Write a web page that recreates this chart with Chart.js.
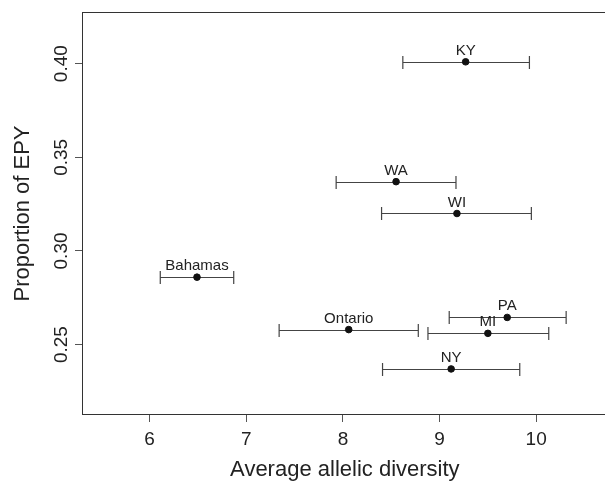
<!DOCTYPE html>
<html>
<head>
<meta charset="utf-8">
<script src="https://cdn.jsdelivr.net/npm/chart.js@4/dist/chart.umd.min.js"></script>
<style>
  html, body { margin: 0; background: #fff; overflow: hidden; width: 605px; height: 481px; }
  #epyCanvas { display: block; }
</style>
</head>
<body>
<!-- a little wider than the window: the right side of the plot box is cut off, as in the picture -->
<canvas id="epyCanvas" width="612" height="481"></canvas>
<script>
const sites = ['KY', 'WA', 'WI', 'Bahamas', 'Ontario', 'PA', 'MI', 'NY'];
const diversity = [9.27, 8.55, 9.18, 6.49, 8.06, 9.70, 9.50, 9.12];
const epy = [0.401, 0.337, 0.320, 0.286, 0.258, 0.2645, 0.256, 0.237];
const lower = [8.62, 7.93, 8.40, 6.11, 7.34, 9.10, 8.88, 8.41];
const upper = [9.93, 9.17, 9.95, 6.87, 8.78, 10.31, 10.13, 9.83];
const xTicks = [6, 7, 8, 9, 10];
const yTicks = [0.25, 0.30, 0.35, 0.40];

const canvas = document.getElementById('epyCanvas');
const fontFamily = "'Liberation Sans', Arial, sans-serif";
const ink = '#222';

const points = diversity.map((d, i) => ({x: d, y: epy[i]}));

// box round the plot, error bars, site names and the rotated y labels
const extras = {
    id: 'extras',
    beforeDatasetsDraw: (chart) => {
        const ctx = chart.ctx;
        const area = chart.chartArea;
        const xs = chart.scales.x;
        const ys = chart.scales.y;
        ctx.save();
        ctx.strokeStyle = '#333';
        ctx.lineWidth = 1;
        ctx.strokeRect(area.left + 0.5, area.top + 0.5, area.right - area.left, area.bottom - area.top - 1);

        ctx.strokeStyle = '#444';
        ctx.lineWidth = 1.2;
        sites.forEach((site, i) => {
            const y = Math.round(ys.getPixelForValue(epy[i])) + 0.5;
            const x0 = xs.getPixelForValue(lower[i]);
            const x1 = xs.getPixelForValue(upper[i]);
            ctx.beginPath();
            ctx.moveTo(x0, y);
            ctx.lineTo(x1, y);
            ctx.moveTo(x0, y - 6.5);
            ctx.lineTo(x0, y + 6.5);
            ctx.moveTo(x1, y - 6.5);
            ctx.lineTo(x1, y + 6.5);
            ctx.stroke();
        });
        ctx.restore();
    },
    afterDatasetsDraw: (chart) => {
        const ctx = chart.ctx;
        const xs = chart.scales.x;
        const ys = chart.scales.y;
        ctx.save();
        ctx.fillStyle = ink;
        ctx.font = '15px ' + fontFamily;
        ctx.textAlign = 'center';
        ctx.textBaseline = 'alphabetic';
        sites.forEach((site, i) => {
            ctx.fillText(site, xs.getPixelForValue(diversity[i]), ys.getPixelForValue(epy[i]) - 7);
        });

        ctx.font = '19px ' + fontFamily;
        yTicks.forEach((v) => {
            ctx.save();
            ctx.translate(67, ys.getPixelForValue(v));
            ctx.rotate(-Math.PI / 2);
            ctx.fillText(v.toFixed(2), 0, 0);
            ctx.restore();
        });
        ctx.restore();
    }
};

const config = {
    type: 'scatter',
    data: {
        datasets: [{
            label: 'Proportion of EPY',
            data: points,
            backgroundColor: '#111',
            borderColor: '#111',
            pointRadius: 3.3,
            pointHoverRadius: 3.3
        }]
    },
    options: {
        responsive: false,
        animation: false,
        devicePixelRatio: 1,
        layout: {
            padding: {left: 0, top: 12, right: 0, bottom: 0}
        },
        plugins: {
            legend: {display: false},
            tooltip: {enabled: false}
        },
        scales: {
            x: {
                type: 'linear',
                position: 'bottom',
                min: 5.3,
                max: 10.74,
                afterBuildTicks: (scale) => {
                    scale.ticks = xTicks.map((v) => ({value: v}));
                },
                afterFit: (scale) => {
                    scale.height = 66;
                },
                border: {display: false},
                grid: {
                    drawOnChartArea: false,
                    drawTicks: true,
                    tickLength: 7,
                    color: '#555'
                },
                ticks: {
                    color: ink,
                    font: {family: fontFamily, size: 19},
                    padding: 6.5,
                    maxRotation: 0,
                    autoSkip: false
                },
                title: {
                    display: true,
                    text: 'Average allelic diversity',
                    color: ink,
                    font: {family: fontFamily, size: 22, lineHeight: 1},
                    padding: {top: 0, bottom: 0}
                }
            },
            y: {
                type: 'linear',
                position: 'left',
                min: 0.2124,
                max: 0.4276,
                afterBuildTicks: (scale) => {
                    scale.ticks = yTicks.map((v) => ({value: v}));
                },
                afterFit: (scale) => {
                    scale.width = 82;
                },
                border: {display: false},
                grid: {
                    drawOnChartArea: false,
                    drawTicks: true,
                    tickLength: 7,
                    color: '#555'
                },
                ticks: {display: false},
                title: {
                    display: true,
                    text: 'Proportion of EPY',
                    color: ink,
                    font: {family: fontFamily, size: 22, lineHeight: 1},
                    padding: {top: 12, bottom: 0}
                }
            }
        }
    },
    plugins: [extras]
};

const epyChart = new Chart(canvas, config);
</script>
</body>
</html>
